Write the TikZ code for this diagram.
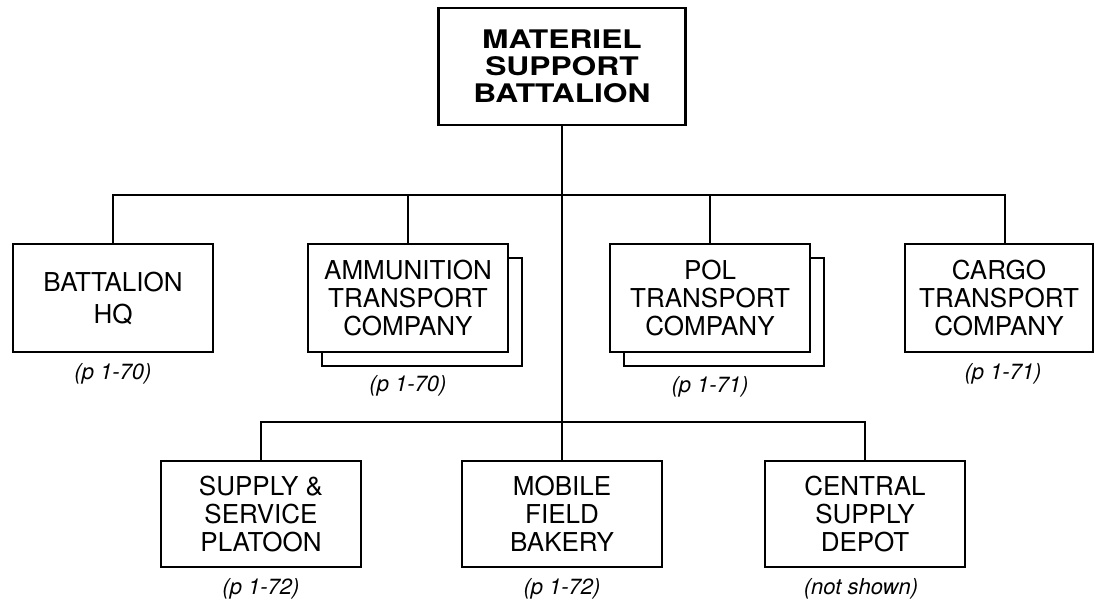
\documentclass[tikz,border=0pt]{standalone}
\usepackage{fontspec}
\setmainfont{TeX Gyre Heros}
\newfontfamily\headfont[FakeStretch=1.24]{TeX Gyre Heros}
\usetikzlibrary{positioning,calc}

\begin{document}
\begin{tikzpicture}[x=0.5pt, y=-0.5pt,
  unit/.style={draw, line width=1.3pt, fill=white, minimum width=100pt, minimum height=54pt,
               align=center, inner sep=2pt, font=\fontsize{13}{14}\selectfont},
  head/.style={unit, minimum width=123.5pt, minimum height=58.5pt,
               font=\headfont\bfseries\fontsize{12.8}{13.4}\selectfont},
  backbox/.style={draw, line width=1.3pt, minimum width=100pt, minimum height=54pt},
  note/.style={inner sep=0pt, font=\itshape\fontsize{11}{12}\selectfont},
  link/.style={line width=1.3pt}]

\useasboundingbox (0,0) rectangle (1095,602);

\node[head] (msb) at (562,66.5) {MATERIEL\\SUPPORT\\BATTALION};

% first row
\node[unit, font=\fontsize{13}{16}\selectfont] (hq) at (113,298) {BATTALION\\HQ};
\node[backbox] (ammob) at (422,312) {};
\node[unit] (ammo) at (408,298) {AMMUNITION\\TRANSPORT\\COMPANY};
\node[backbox] (polb) at (724,312) {};
\node[unit] (pol) at (710,298) {POL\\TRANSPORT\\COMPANY};
\node[unit, minimum width=94pt] (cargo) at (999,298) {CARGO\\TRANSPORT\\COMPANY};

% second row
\node[unit, minimum height=53pt] (sup) at (261,514) {SUPPLY \&\\SERVICE\\PLATOON};
\node[unit, minimum height=53pt] (bak) at (562,514) {MOBILE\\FIELD\\BAKERY};
\node[unit, minimum height=53pt] (csd) at (865,514) {CENTRAL\\SUPPLY\\DEPOT};

\coordinate (bus1) at (0,195);
\coordinate (bus2) at (0,422);
\coordinate (cargotop) at ([xshift=3pt]cargo.north);
\coordinate (ammolow) at (ammo.south |- ammob.south);
\coordinate (pollow) at (pol.south |- polb.south);

\draw[link] (hq.north) |- (cargotop |- bus1) -- (cargotop);
\draw[link] (ammo.north) -- (ammo.north |- bus1);
\draw[link] (pol.north) -- (pol.north |- bus1);
\draw[link] (msb.south) -- (bak.north);
\draw[link] (sup.north) |- (csd.north |- bus2) -- (csd.north);

% page references
\node[note, below=5pt of hq] (hqref) {(p 1-70)};
\node[note, below=4pt of ammolow] (ammoref) {(p 1-70)};
\node[note, below=4.5pt of pollow] (polref) {(p 1-71)};
\node[note, below=5pt of cargo, xshift=2pt] (cargoref) {(p 1-71)};
\node[note, below=5pt of sup] (supref) {(p 1-72)};
\node[note, below=5pt of bak] (bakref) {(p 1-72)};
\node[note, below=5pt of csd, xshift=-2pt] (csdref) {(not shown)};
\end{tikzpicture}
\end{document}
